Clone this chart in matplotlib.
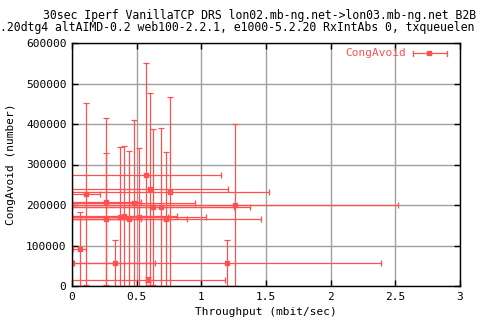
import matplotlib
matplotlib.use("Agg")
import matplotlib.pyplot as plt

plt.rcParams['font.family'] = 'DejaVu Sans Mono'
plt.rcParams['font.size'] = 8

RED = '#ff5050'
GRID = '#a0a0a0'

# throughput (mbit/sec) and CongAvoid values with their error sizes
thr = [0.059, 0.11, 0.265, 0.265, 0.33, 0.373, 0.404, 0.443, 0.477, 0.518,
       0.574, 0.59, 0.605, 0.628, 0.69, 0.729, 0.76, 1.20, 1.26]
cong = [90600, 227000, 207000, 164500, 56000, 171000, 172500, 166000, 204500,
        170000, 274000, 16000, 239000, 195000, 195000, 165000, 232000, 56000, 200000]
thr_err = [0.052, 0.11, 0.268, 0.265, 0.315, 0.373, 0.404, 0.443, 0.477, 0.518,
           0.58, 0.59, 0.605, 0.628, 0.69, 0.729, 0.765, 1.19, 1.26]
cong_err = [91000, 224000, 209000, 163000, 57000, 171000, 172500, 166500, 204500,
            170000, 276000, 5500, 237000, 192000, 194000, 165000, 234000, 57000, 199000]

xticks = [0, 0.5, 1, 1.5, 2, 2.5, 3]
xticklabels = ['0', '0.5', '1', '1.5', '2', '2.5', '3']
yticks = [0, 100000, 200000, 300000, 400000, 500000, 600000]

title1 = "30sec Iperf VanillaTCP DRS lon02.mb-ng.net->lon03.mb-ng.net B2B"
title2 = ".20dtg4 altAIMD-0.2 web100-2.2.1, e1000-5.2.20 RxIntAbs 0, txqueuelen"

fig = plt.figure(figsize=(4.8, 3.2), dpi=100)
ax = fig.add_axes([72/480, 34/320, 388/480, 243/320])

ax.errorbar(thr, cong, xerr=thr_err, yerr=cong_err, fmt='s', color=RED,
            ecolor=RED, elinewidth=0.9, capsize=2.2, capthick=0.9,
            markersize=2.5)

ax.set_xlim(0, 3)
ax.set_ylim(0, 600000)
ax.set_xticks(xticks)
ax.set_xticklabels(xticklabels)
ax.set_yticks(yticks)
ax.set_yticklabels([str(v) for v in yticks])
ax.grid(True, color=GRID, linewidth=1)
ax.set_axisbelow(True)
ax.tick_params(direction='in', length=4, width=1, top=True, right=True, pad=4)
for s in ax.spines.values():
    s.set_linewidth(1)

ax.set_xlabel("Throughput (mbit/sec)", labelpad=4)
ax.set_ylabel("CongAvoid (number)", labelpad=7)

# legend key drawn by hand (gnuplot style: horizontal bar with caps)
tr = ax.transAxes
ax.text(334/388, 1 - 10/243, "CongAvoid", color=RED, ha='right', va='center',
        transform=tr)
ax.plot([341/388, 375/388], [1 - 10/243] * 2, color=RED, lw=0.9, transform=tr,
        clip_on=False)
for xc in [341/388, 375/388]:
    ax.plot([xc, xc], [1 - 7.5/243, 1 - 12.5/243], color=RED, lw=0.9,
            transform=tr, clip_on=False)
ax.plot([357/388], [1 - 10/243], 's', color=RED, markersize=2.5, transform=tr,
        clip_on=False)

fig.text(43/480, 1 - 15/320, title1, ha='left', va='center', fontsize=8.3)
fig.text(0, 1 - 27/320, title2, ha='left', va='center', fontsize=8.3)

fig.savefig("out.png", dpi=100)
